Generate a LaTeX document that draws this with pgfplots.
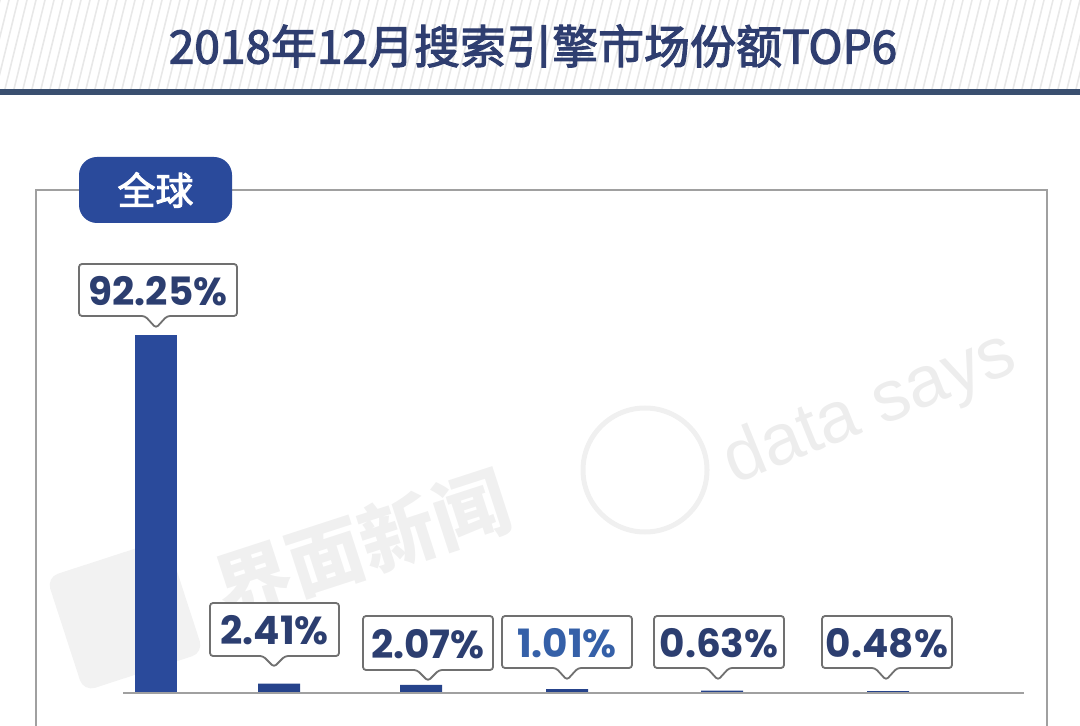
\documentclass[border=0pt]{standalone}
\usepackage{fontspec}
\setmainfont{Poppins}
\newfontfamily\cjk{Noto Sans CJK SC}
\newfontfamily\cjkm{Noto Sans CJK SC}[FakeBold=2.5]
\newfontfamily\wmfont{Liberation Sans}
\usepackage{pgfplots}
\pgfplotsset{compat=1.18}

\definecolor{titleblue}{HTML}{2F3E70}
\definecolor{barblue}{HTML}{2A4A9B}
\definecolor{labblue}{HTML}{2C3E70}
\definecolor{lightlab}{HTML}{3560A8}
\definecolor{boxgray}{HTML}{707070}
\definecolor{panelgray}{HTML}{A0A0A0}
\definecolor{linebl}{HTML}{3A4F70}

% callout: xl xr ytop ybottom tipx tipy text colour (pixel units)
\newcommand{\callout}[8]{%
  \draw[draw=boxgray, line width=0.9pt, fill=white, rounded corners=1.5pt]
    (#1,#3) -- (#2,#3) -- (#2,#4) -- ({#5+11},#4) -- (#5,#6) -- ({#5-11},#4) -- (#1,#4) -- cycle;
  \node[text=#8, inner sep=0pt, font=\fontsize{19.5}{20}\selectfont\bfseries]
    at ({(#1+#2)/2},{(#3+#4)/2+1}) {#7};}

\begin{document}
\begin{tikzpicture}
\path[use as bounding box] (0pt,0pt) rectangle (540pt,-363pt);

\begin{scope}[x=0.5pt, y=-0.5pt]
  % hatched title band
  \begin{scope}
    \clip (0,0) rectangle (1080,89);
    \foreach \i in {-40,-31,...,1100}
      \draw[black!9, line width=0.8pt] (\i,89) -- ({\i+22},0);
  \end{scope}
  \fill[linebl] (0,89) rectangle (1080,95);
  \node[text=titleblue, font=\cjkm\fontsize{23}{24}\selectfont] at (533,46)
    {2018年12月搜索引擎市场份额TOP6};

  % watermark
  \node[text=black!6, rotate=18, font=\cjk\fontsize{38}{38}\selectfont\bfseries] at (362,545) {界面新闻};
  \fill[black!5, rotate around={18:(125,615)}, rounded corners=6pt] (62,555) rectangle (188,675);
  \draw[black!6, line width=2.5pt] (645,470) circle (62);
  \node[text=black!7, rotate=22, font=\wmfont\fontsize{36}{36}\selectfont] at (870,410) {data says};

  % panel and tab
  \draw[panelgray, line width=1pt] (36,726) -- (36,190) -- (1047,190) -- (1047,726);
  \fill[barblue, rounded corners=9pt] (79,157) rectangle (232,223);
  \node[text=white, font=\cjkm\fontsize{19}{20}\selectfont] at (155.5,190) {全球};
\end{scope}

\begin{axis}[
  at={(0pt,-346.5pt)}, anchor=origin,
  x=0.5pt, y=1.94pt,
  xmin=0, xmax=1080, ymin=-8, ymax=170,
  axis lines=none, clip=false,
  ybar, bar width=21pt,
]
\addplot[fill=barblue, draw=none, bar shift=0pt] coordinates {(156,92.25)};
\addplot[fill=barblue!90!black, draw=none, bar shift=0pt] coordinates
  {(279,2.41) (421,2.07) (567,1.01) (722,0.63) (888,0.48)};
\end{axis}

\begin{scope}[x=0.5pt, y=-0.5pt]
  \draw[panelgray, line width=1pt] (123,693) -- (1024,693);
  \callout{79}{237}{264}{316}{156}{328}{92.25\%}{labblue}
  \callout{210}{339}{603}{656}{274}{667}{2.41\%}{labblue}
  \callout{363}{493}{616}{670}{428}{681}{2.07\%}{labblue}
  \callout{502}{632}{616}{668}{567}{680}{1.01\%}{lightlab}
  \callout{654}{784}{616}{668}{718}{680}{0.63\%}{labblue}
  \callout{822}{952}{616}{668}{886}{680}{0.48\%}{labblue}
\end{scope}
\end{tikzpicture}
\end{document}
